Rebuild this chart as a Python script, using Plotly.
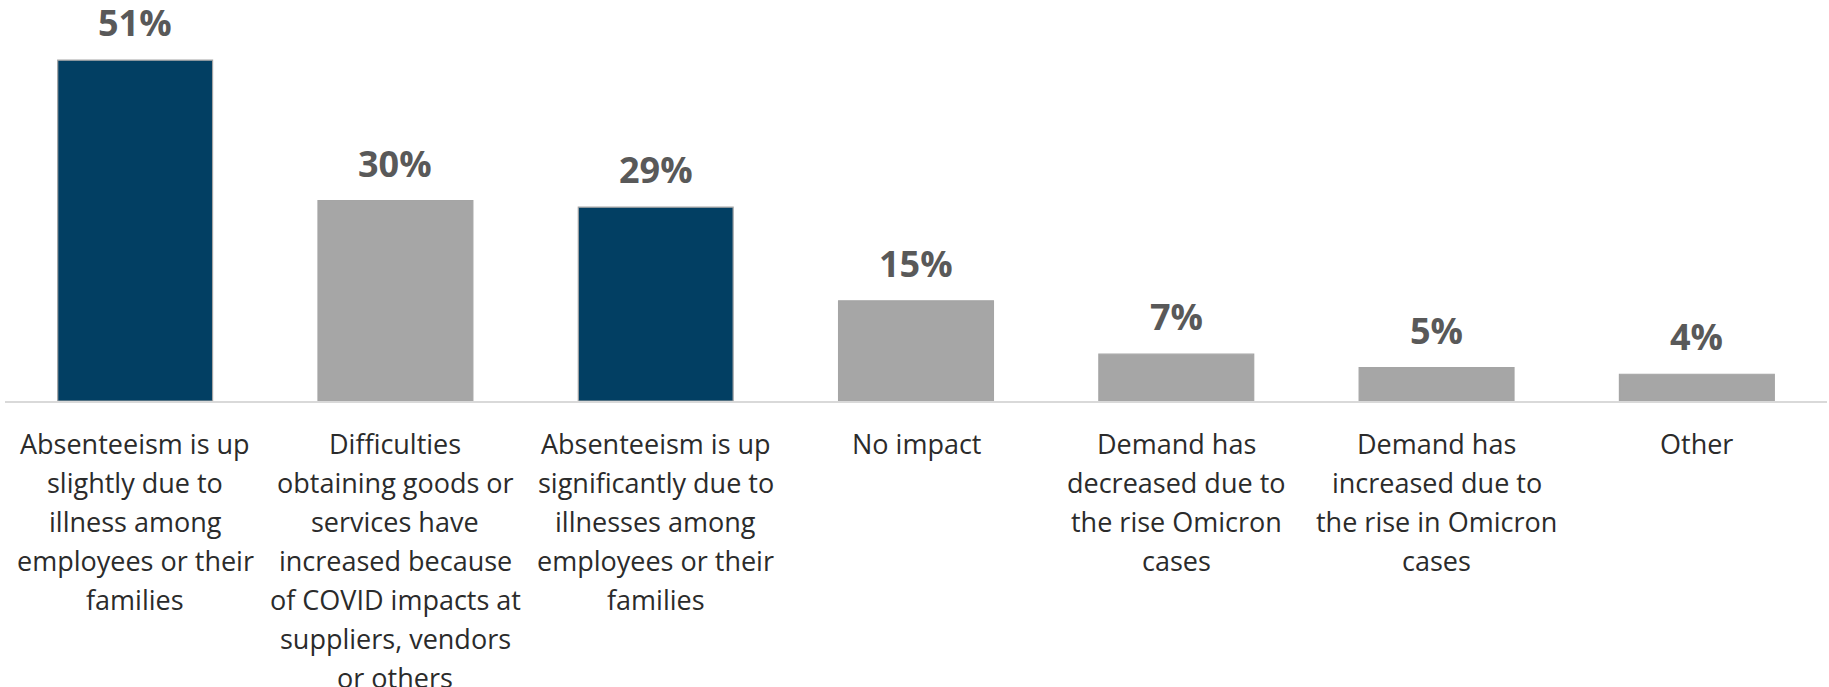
import plotly.graph_objects as go

# Survey responses: business impact of the Omicron wave
categories = [
    "Absenteeism is up<br>slightly due to<br>illness among<br>employees or their<br>families",
    "Difficulties<br>obtaining goods or<br>services have<br>increased because<br>of COVID impacts at<br>suppliers, vendors<br>or others",
    "Absenteeism is up<br>significantly due to<br>illnesses among<br>employees or their<br>families",
    "No impact",
    "Demand has<br>decreased due to<br>the rise Omicron<br>cases",
    "Demand has<br>increased due to<br>the rise in Omicron<br>cases",
    "Other",
]
values = [51, 30, 29, 15, 7, 5, 4]
highlight = [True, False, True, False, False, False, False]

NAVY = "#023F63"
GREY = "#A6A6A6"
bar_colors = [NAVY if h else GREY for h in highlight]

keys = [f"c{i}" for i in range(len(categories))]

fig = go.Figure(
    go.Bar(
        x=keys,
        y=values,
        marker=dict(color=bar_colors, line=dict(color="#A5A5A5", width=1.2)),
        hoverinfo="skip",
    )
)

annotations = []
# value labels above each bar
for k, v in zip(keys, values):
    annotations.append(dict(
        x=k, y=v, xref="x", yref="y", text=f"<b>{v}%</b>",
        showarrow=False, yanchor="bottom", yshift=11,
        font=dict(family="Open Sans", size=36, color="#595959"),
    ))

# category labels below the axis, one line at a time for wider leading
LINE_STEP = 39
for k, label in zip(keys, categories):
    for i, line in enumerate(label.split("<br>")):
        annotations.append(dict(
            x=k, y=0, xref="x", yref="paper", text=line,
            showarrow=False, yanchor="middle", yshift=-(42 + i * LINE_STEP),
            font=dict(family="Open Sans", size=27, color="#2B2B2B"),
        ))

fig.update_layout(
    width=1829, height=687,
    margin=dict(l=5, r=2, t=0, b=286),
    paper_bgcolor="white", plot_bgcolor="white",
    bargap=0.405,
    showlegend=False,
    annotations=annotations,
    xaxis=dict(
        showticklabels=False, ticks="", showgrid=False,
        showline=True, linecolor="#D9D9D9", linewidth=2,
        zeroline=False,
    ),
    yaxis=dict(range=[0, 60], visible=False, showgrid=False, zeroline=False),
)

fig.write_html("out.html")
